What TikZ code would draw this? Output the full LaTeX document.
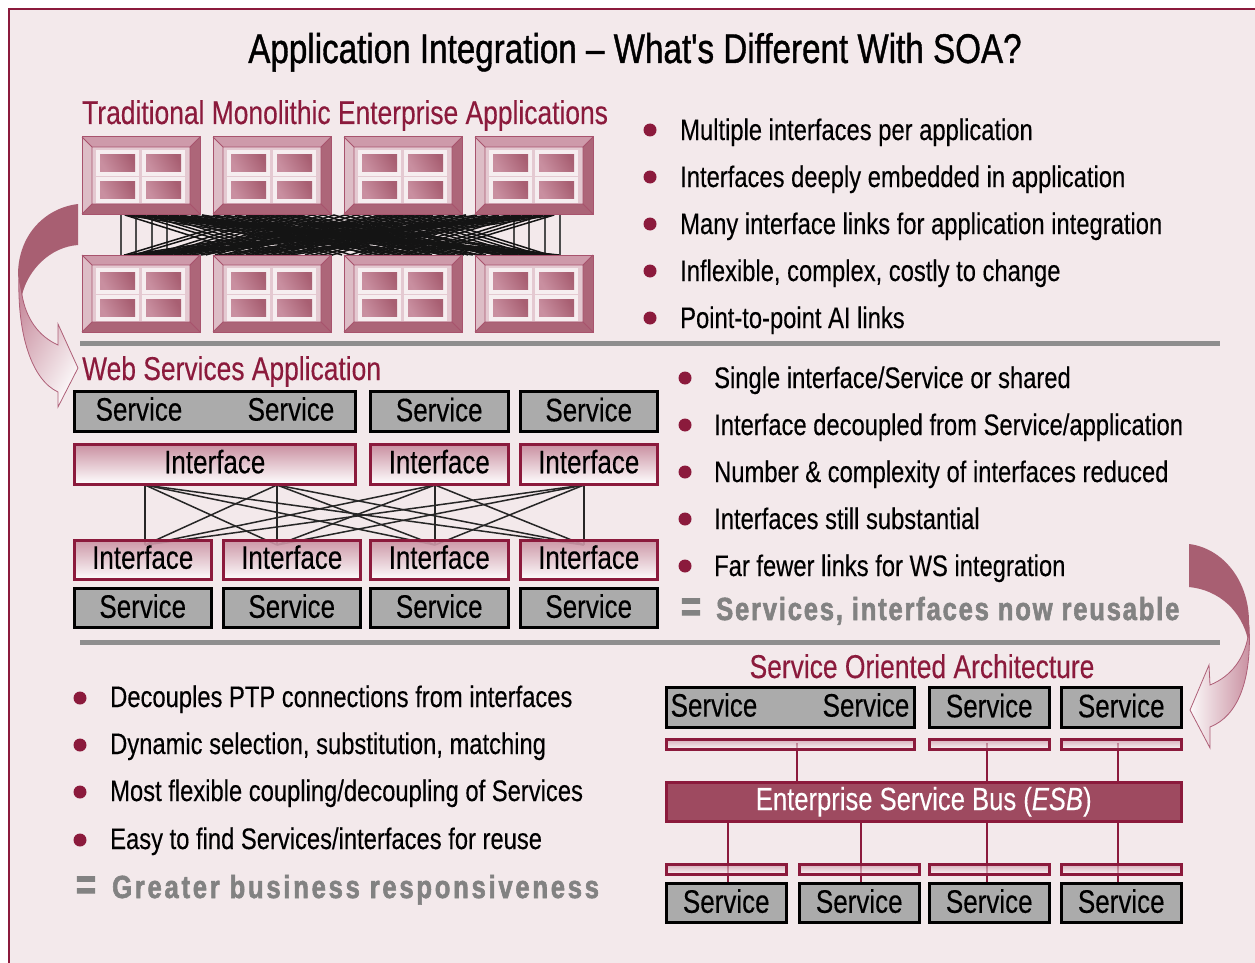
\documentclass[tikz,border=0pt]{standalone}
\usepackage{fontspec}
\setmainfont[FakeStretch=0.8,FakeBold=0.3]{Liberation Sans}
\newfontfamily\titlefont[FakeStretch=0.8,FakeBold=0.9]{Liberation Sans}
\newfontfamily\grayfonta[FakeStretch=0.8,LetterSpace=5.6,FakeBold=1.8]{Liberation Sans Bold}
\newfontfamily\grayfontb[FakeStretch=0.8,LetterSpace=8.6,FakeBold=1.8]{Liberation Sans Bold}
\usetikzlibrary{calc}
\definecolor{bgc}{HTML}{F3E9EB}
\definecolor{wine}{HTML}{8B1A3C}
\definecolor{sepc}{HTML}{8E8E8E}
\definecolor{svc}{HTML}{ABABAB}
\definecolor{ifc}{HTML}{C98FA0}
\definecolor{dark}{HTML}{A85F72}
\definecolor{busc}{HTML}{9E4A60}
\definecolor{grayt}{HTML}{828282}
\tikzset{
  svcbox/.style={draw=black,line width=2.5pt,fill=svc,inner sep=0pt,font=\fontsize{32.5}{34}\selectfont,text=black,text height=24pt,text depth=4pt},
  ifbox/.style={draw=wine,line width=2.5pt,top color=ifc,bottom color=white,inner sep=0pt,font=\fontsize{32.5}{34}\selectfont,text=black,text height=24pt,text depth=6pt},
  ifslim/.style={draw=wine,line width=2.5pt,top color=ifc,bottom color=white,fill opacity=.65,inner sep=0pt},
  svctext/.style={inner sep=0pt,font=\fontsize{32.5}{34}\selectfont,text=black},
  body/.style={inner sep=0pt,anchor=base west,font=\fontsize{29.7}{32}\selectfont,text=black},
  head/.style={inner sep=0pt,anchor=base west,font=\fontsize{33}{36}\selectfont,text=wine},
  bignotea/.style={inner sep=0pt,anchor=base west,font=\grayfonta\fontsize{32}{34}\selectfont,text=grayt},
  bignoteb/.style={inner sep=0pt,anchor=base west,font=\grayfontb\fontsize{32}{34}\selectfont,text=grayt},
  eqsign/.style={inner sep=0pt,anchor=center,font=\grayfonta\fontsize{44}{46}\selectfont,text=grayt},
  blt/.style={circle,fill=wine,draw=none,minimum size=13pt,inner sep=0pt},
  sep/.style={draw=sepc,line width=5pt},
  meshline/.style={draw=black!92,line width=1.5pt},
  meshvert/.style={draw=black!70,line width=1.3pt},
  wline/.style={draw=black!85,line width=1.5pt},
  busline/.style={draw=wine,line width=2.5pt},
}
\newcommand{\appwin}[2]{%
  \fill[white!25!bgc] (#1-4,#2-4) rectangle ++(43,26);
  \shade[left color=dark,right color=ifc,shading angle=-60] (#1,#2) rectangle ++(35,17);
}
\newcommand{\appbox}[3]{%
  \node[minimum width=118pt,minimum height=77pt,inner sep=0pt,anchor=north west] (#1) at (#2,#3) {};
  \begin{scope}[shift={(#2,#3)}]
    \fill[fill=ifc!90!white] (0,0) -- (118,0) -- (108,10) -- (10,10) -- cycle;
    \fill[fill=ifc!60!dark!50!white] (0,0) -- (10,10) -- (10,67) -- (0,77) -- cycle;
    \fill[fill=dark!85!ifc] (118,0) -- (118,77) -- (108,67) -- (108,10) -- cycle;
    \fill[fill=dark!90!ifc] (0,77) -- (118,77) -- (108,67) -- (10,67) -- cycle;
    \fill[fill=ifc!35!bgc] (10,10) rectangle (108,67);
    \appwin{18}{17}\appwin{64}{17}\appwin{18}{44}\appwin{64}{44}
    \draw[wine!75,line width=1pt] (0,0) rectangle (118,77);
    \draw[wine!75,line width=.8pt] (0,0) -- (10,10) rectangle (108,67) -- (118,77) (118,0) -- (108,10) (0,77) -- (10,67);
  \end{scope}
}
\begin{document}
\begin{tikzpicture}[x=1pt,y=-1pt]
\useasboundingbox (0,0) rectangle (1255,963);
\fill[white] (0,0) rectangle (1255,963);
\fill[bgc] (9,9) rectangle (1255,963);
\draw[wine,line width=2.2pt] (9,963) -- (9,9) -- (1255,9);

\node[inner sep=0pt,font=\titlefont\fontsize{41.5}{44}\selectfont,text=black,anchor=base] (title) at (635,63) {Application Integration – What's Different With SOA?};

% section 1 : mesh
\foreach \o in {121,136,152,167,253,429,514,529,545,560}{
  \coordinate (ma) at (\o,215);\coordinate (mb) at (\o,255);
  \draw[meshvert] (ma) -- (mb);
}
\foreach \k in {0,...,39}{
 \foreach \d in {131,262,393,-131,-262,-393}{
   \pgfmathsetmacro{\xa}{125+11*\k}
   \pgfmathsetmacro{\xb}{\xa+\d+mod(\k*7,9)-4}
   \pgfmathparse{(\xb>=121 && \xb<=560) ? 1 : 0}
   \ifnum\pgfmathresult=1\relax
     \coordinate (ma) at (\xa,215);\coordinate (mb) at (\xb,255);
     \draw[meshline] (ma) -- (mb);
   \fi
 }}
\appbox{ta}{82}{137}\appbox{tb}{213}{137}\appbox{tc}{344}{137}\appbox{td}{475}{137}
\appbox{ba}{82}{255}\appbox{bb}{213}{255}\appbox{bc}{344}{255}\appbox{bd}{475}{255}

\node[head] (h1) at (82,124) {Traditional Monolithic Enterprise Applications};
\foreach \y/\t in {130/Multiple interfaces per application,177/Interfaces deeply embedded in application,224/Many interface links for application integration,271/{Inflexible, complex, costly to change},318/Point-to-point AI links}{
  \node[blt] at (650,\y) {};
  \node[body] at (680,\y+10) {\t};
}

\draw[sep] (80,343) -- (1220,343);
\draw[sep] (80,642) -- (1220,642);

% section 2
\node[head] (h2) at (82,380) {Web Services Application};
\coordinate (ua) at (145,485);\coordinate (ub) at (277,485);\coordinate (uc) at (435,485);\coordinate (ud) at (584,485);
\coordinate (va) at (145,545);\coordinate (vb) at (277,545);\coordinate (vc) at (435,545);\coordinate (vd) at (584,545);
\foreach \p in {ua,ub,uc,ud}{\foreach \q in {va,vb,vc,vd}{\draw[wline] (\p) -- (\q);}}
\node[svcbox,minimum width=281pt,minimum height=40pt,anchor=north west] (s1) at (73,390) {};
\node[svcbox,minimum width=138pt,minimum height=40pt,anchor=north west] (s2) at (369,390) {Service};
\node[svcbox,minimum width=137pt,minimum height=40pt,anchor=north west] (s3) at (519,390) {Service};
\node[svctext] (s1a) at (139,409) {Service};
\node[svctext] (s1b) at (291,409) {Service};
\node[ifbox,minimum width=281pt,minimum height=40pt,anchor=north west] (i1) at (73,443) {Interface};
\node[ifbox,minimum width=138pt,minimum height=40pt,anchor=north west] (i2) at (369,443) {Interface};
\node[ifbox,minimum width=137pt,minimum height=40pt,anchor=north west] (i3) at (519,443) {Interface};
\foreach \n/\x/\w in {a/73/137,b/222/137,c/369/138,d/519/137}{
  \node[ifbox,minimum width=\w pt,minimum height=39pt,anchor=north west,fill opacity=.9,text opacity=1] (j\n) at (\x,539) {Interface};
  \node[svcbox,minimum width=\w pt,minimum height=39pt,anchor=north west] (k\n) at (\x,587) {Service};
}
\foreach \y/\t in {378/{Single interface/Service or shared},425/{Interface decoupled from Service/application},472/{Number \& complexity of interfaces reduced},519/{Interfaces still substantial},566/{Far fewer links for WS integration}}{
  \node[blt] at (685,\y) {};
  \node[body] at (714,\y+10) {\t};
}
\node[eqsign] (e1) at (691,610) {=};
\node[bignotea] (n1) at (716,620) {Services, interfaces now reusable};

% section 3
\node[head,anchor=base] (h3) at (922,678) {Service Oriented Architecture};
\foreach \y/\t in {698/{Decouples PTP connections from interfaces},745/{Dynamic selection, substitution, matching},792/{Most flexible coupling/decoupling of Services},840/{Easy to find Services/interfaces for reuse}}{
  \node[blt] at (80,\y) {};
  \node[body] at (110,\y+9) {\t};
}
\node[eqsign] (e2) at (86,888) {=};
\node[bignoteb] (n2) at (112,898) {Greater business responsiveness};

\node[minimum width=515pt,minimum height=39pt,inner sep=0pt,anchor=north west,draw=wine,line width=2.5pt,fill=busc,text=white,font=\fontsize{32}{34}\selectfont] (esb) at (665,781) {Enterprise Service Bus (\textit{ESB})};
\coordinate (pa) at (797,743);\coordinate (pb) at (987,743);\coordinate (pc) at (1118,743);
\coordinate (qa) at (728,882);\coordinate (qb) at (861,882);\coordinate (qc) at (987,882);\coordinate (qd) at (1118,882);
\draw[busline] (pa) -- (pa|-esb.north);\draw[busline] (pb) -- (pb|-esb.north);\draw[busline] (pc) -- (pc|-esb.north);
\draw[busline] (qa|-esb.south) -- (qa);\draw[busline] (qb|-esb.south) -- (qb);\draw[busline] (qc|-esb.south) -- (qc);\draw[busline] (qd|-esb.south) -- (qd);
\node[svcbox,minimum width=248pt,minimum height=40pt,anchor=north west] (u1) at (665,686) {};
\node[svctext] (u1a) at (714,705) {Service};
\node[svctext] (u1b) at (866,705) {Service};
\node[svcbox,minimum width=120pt,minimum height=40pt,anchor=north west] (u2) at (928,686) {Service};
\node[svcbox,minimum width=120pt,minimum height=40pt,anchor=north west] (u3) at (1060,686) {Service};
\node[ifslim,minimum width=248pt,minimum height=10pt,anchor=north west] (f1) at (665,738) {};
\node[ifslim,minimum width=120pt,minimum height=10pt,anchor=north west] (f2) at (928,738) {};
\node[ifslim,minimum width=120pt,minimum height=10pt,anchor=north west] (f3) at (1060,738) {};
\foreach \n/\x in {a/665,b/798,c/928,d/1060}{
  \node[ifslim,minimum width=120pt,minimum height=10pt,anchor=north west] (g\n) at (\x,863) {};
  \node[svcbox,minimum width=120pt,minimum height=39pt,anchor=north west] (w\n) at (\x,882) {Service};
}

% curved arrows
\draw[wine!70,line width=.8pt,left color=ifc!95!dark,right color=white!70!bgc,shading angle=60]
  (22,295) .. controls (26,318) and (38,336) .. (58,345) -- (58,324) -- (78,368) -- (58,407) -- (58,392)
  .. controls (32,380) and (17,335) .. (19,275) -- cycle;
\fill[dark] (78,204) .. controls (45,208) and (18,235) .. (18,275) -- (22,295)
  .. controls (28,270) and (50,247) .. (78,245) -- cycle;

\draw[wine!70,line width=.8pt,right color=ifc!95!dark,left color=white!70!bgc]
  (1248,637) .. controls (1244,658) and (1232,676) .. (1210,685) -- (1209,665) -- (1190,710) -- (1210,748) -- (1210,727)
  .. controls (1238,716) and (1252,680) .. (1249,625) -- cycle;
\fill[dark] (1189,544) .. controls (1222,548) and (1250,580) .. (1249,625) -- (1248,640)
  .. controls (1242,612) and (1220,590) .. (1189,587) -- cycle;
\end{tikzpicture}
\end{document}
